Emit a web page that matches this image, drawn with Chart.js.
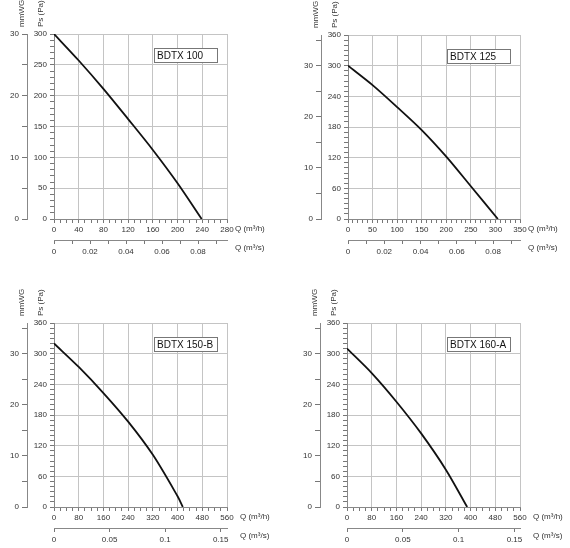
<!DOCTYPE html>
<html>
<head>
<meta charset="utf-8">
<script src="https://cdn.jsdelivr.net/npm/chart.js@4.4.1/dist/chart.umd.min.js"></script>
<style>
body{margin:0;background:#fff;}
#wrap{position:relative;width:570px;height:548px;overflow:hidden;}
#wrap canvas{position:absolute;}
</style>
</head>
<body>
<div id="wrap">
<canvas id="c1" width="285" height="270" style="left:0;top:0"></canvas>
<canvas id="c2" width="276" height="270" style="left:294px;top:0"></canvas>
<canvas id="c3" width="285" height="264" style="left:0;top:284px"></canvas>
<canvas id="c4" width="277" height="264" style="left:293px;top:284px"></canvas>
</div>
<script>
// model names
const models = ['BDTX 100', 'BDTX 125', 'BDTX 150-B', 'BDTX 160-A'];

// airflow Q (m3/h) and static pressure Ps (Pa)
const flow100 = [0, 40, 80, 120, 160, 200, 239];
const press100 = [300, 257, 211, 162, 112, 58, 0];
const flow125 = [0, 50, 100, 150, 200, 250, 305];
const press125 = [300, 262, 219, 174, 122, 64, 0];
const flow150 = [0, 80, 160, 240, 320, 400, 417];
const press150 = [320, 274, 223, 167, 102, 21, 0];
const flow160 = [0, 80, 160, 240, 320, 389];
const press160 = [310, 262, 206, 144, 73, 0];

Chart.defaults.font.family = '"Liberation Sans", Arial, sans-serif';
Chart.defaults.font.size = 8;
Chart.defaults.color = '#333';

const panelText = {
	id: 'panelText',
	afterDraw(chart, args, opts) {
		const ctx = chart.ctx, a = chart.chartArea, sc = chart.scales;
		ctx.save();
		ctx.fillStyle = '#333';
		ctx.font = '8px "Liberation Sans", Arial, sans-serif';
		ctx.textBaseline = 'middle';
		ctx.textAlign = 'left';
		ctx.fillText('Q (m³/h)', a.right + opts.gap, sc.x.top + 10);
		ctx.fillText('Q (m³/s)', a.right + opts.gap, sc.x2.top + 8);
		[[sc.y2.right - 5, 'mmWG'], [sc.y.left + 14, 'Ps (Pa)']].forEach(function(t) {
			ctx.save();
			ctx.translate(t[0], a.top - 7);
			ctx.rotate(-Math.PI / 2);
			ctx.fillText(t[1], 0, 0);
			ctx.restore();
		});
		// model name box
		const bw = 63, bh = 14;
		const bx = Math.round(a.right - 10 - bw), by = Math.round(a.top + 14);
		ctx.fillStyle = '#fff';
		ctx.fillRect(bx, by, bw, bh);
		ctx.strokeStyle = '#777';
		ctx.lineWidth = 1;
		ctx.strokeRect(bx + 0.5, by + 0.5, bw, bh);
		ctx.fillStyle = '#111';
		ctx.font = '10px "Liberation Sans", Arial, sans-serif';
		ctx.fillText(opts.model, bx + 3, by + bh / 2 + 1);
		ctx.restore();
	}
};

function makePanel(id, model, flow, press, o) {
	const cv = document.getElementById(id);
	return new Chart(cv, {
		type: 'line',
		data: {
			datasets: [{
				data: flow.map(function(q, i) { return {x: q, y: press[i]}; }),
				borderColor: '#111',
				borderWidth: 1.8,
				pointRadius: 0,
				tension: 0.3,
				fill: false
			}]
		},
		options: {
			responsive: false,
			animation: false,
			events: [],
			layout: {padding: o.pad},
			plugins: {
				legend: {display: false},
				tooltip: {enabled: false},
				panelText: {model: model, gap: o.gap}
			},
			scales: {
				x: {
					type: 'linear', position: 'bottom', min: 0, max: o.qMax, weight: 0,
					ticks: {stepSize: o.qMinor, autoSkip: false, maxRotation: 0, padding: 2,
						callback: v => v % o.qStep === 0 ? v : ''},
					grid: {color: c => c.tick && c.tick.value % o.qStep === 0 ? '#c4c4c4' : 'rgba(0,0,0,0)',
						tickColor: '#777', tickLength: 4},
					border: {color: '#888'},
					afterFit: s => { s.height = 21; }
				},
				x2: {
					type: 'linear', position: 'bottom', min: 0, max: o.sMax, weight: 1,
					ticks: {stepSize: o.sMinor, includeBounds: false, autoSkip: false, maxRotation: 0, padding: 3,
						callback: v => Math.round(v * 1000) % Math.round(o.sStep * 1000) === 0 ? String(+v.toFixed(2)) : ''},
					grid: {drawOnChartArea: false, color: '#777', tickLength: 4},
					border: {color: '#888'},
					afterFit: s => { s.height = o.h2; }
				},
				y: {
					type: 'linear', position: 'left', min: 0, max: o.pMax, weight: 0,
					ticks: {stepSize: 10, autoSkip: false, padding: 3,
						callback: v => v % o.pStep === 0 ? v : ''},
					grid: {color: c => c.tick && c.tick.value % o.pStep === 0 ? '#c4c4c4' : 'rgba(0,0,0,0)',
						tickColor: '#777', tickLength: 4},
					border: {color: '#888'},
					afterFit: s => { s.width = 27; }
				},
				y2: {
					type: 'linear', position: 'left', min: 0, max: o.mMax, weight: 1,
					ticks: {stepSize: 5, includeBounds: false, autoSkip: false, padding: 3,
						callback: v => v % 10 === 0 ? v : ''},
					grid: {drawOnChartArea: false, color: '#777', tickLength: 5},
					border: {color: '#888'},
					afterFit: s => { s.width = 27; }
				}
			}
		},
		plugins: [panelText]
	});
}

let chart1 = makePanel('c1', models[0], flow100, press100, {
	pad: {left: 0, top: 34, right: 58, bottom: 8}, h2: 22, gap: 8,
	qMax: 280, qStep: 40, qMinor: 10, sMax: 0.0961, sStep: 0.02, sMinor: 0.01,
	pMax: 300, pStep: 50, mMax: 30
});
let chart2 = makePanel('c2', models[1], flow125, press125, {
	pad: {left: 0, top: 35, right: 50, bottom: 8}, h2: 22, gap: 8,
	qMax: 350, qStep: 50, qMinor: 10, sMax: 0.0948, sStep: 0.02, sMinor: 0.01,
	pMax: 360, pStep: 60, mMax: 36
});
let chart3 = makePanel('c3', models[2], flow150, press150, {
	pad: {left: 0, top: 39, right: 58, bottom: 2}, h2: 18, gap: 13,
	qMax: 560, qStep: 80, qMinor: 20, sMax: 0.1557, sStep: 0.05, sMinor: 0.05,
	pMax: 360, pStep: 60, mMax: 36
});
let chart4 = makePanel('c4', models[3], flow160, press160, {
	pad: {left: 0, top: 39, right: 50, bottom: 2}, h2: 18, gap: 13,
	qMax: 560, qStep: 80, qMinor: 20, sMax: 0.155, sStep: 0.05, sMinor: 0.05,
	pMax: 360, pStep: 60, mMax: 36
});
</script>
</body>
</html>
